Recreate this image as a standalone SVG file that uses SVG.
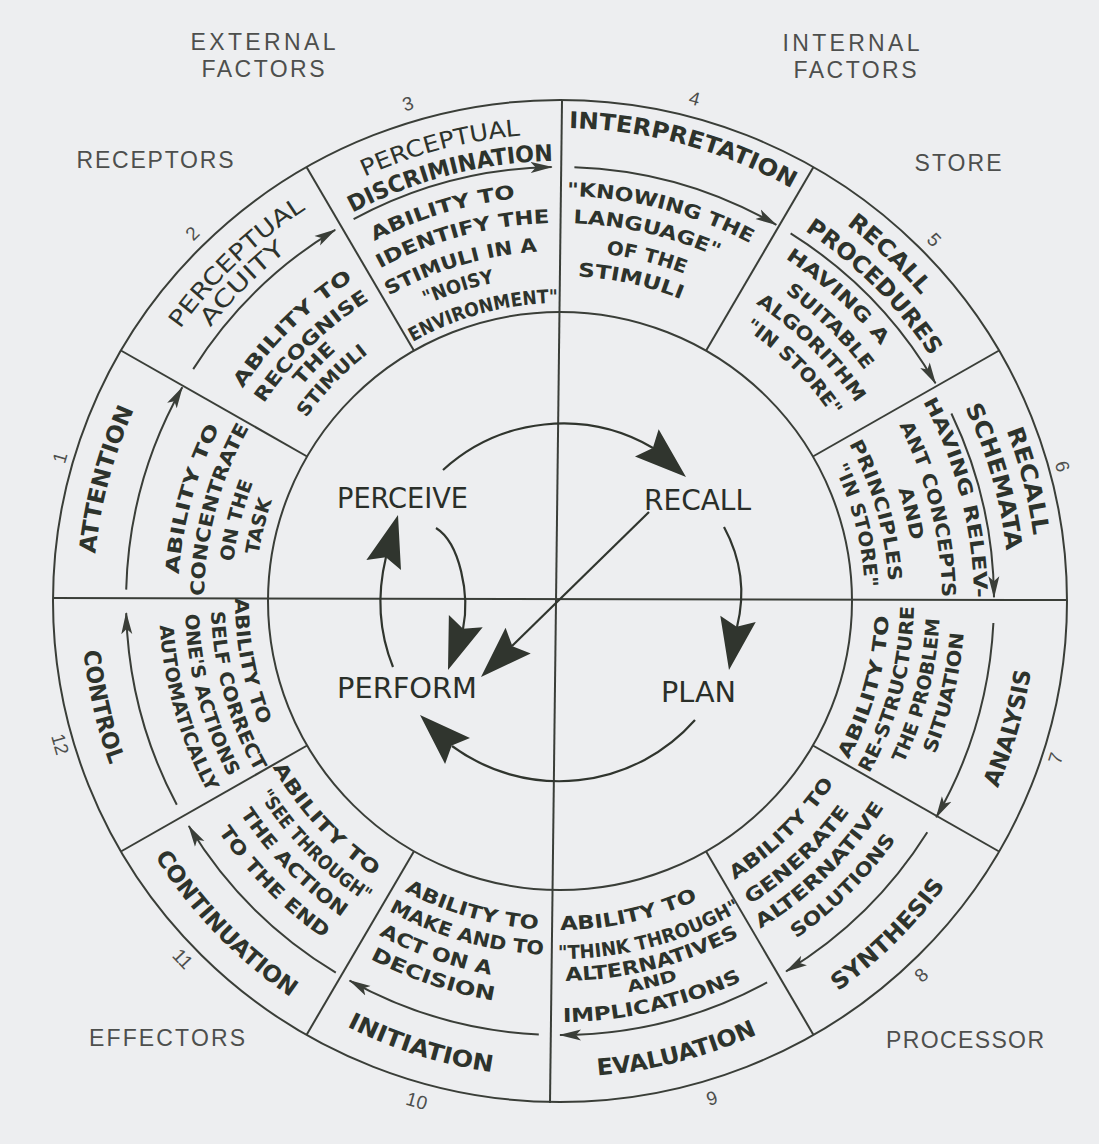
<svg xmlns="http://www.w3.org/2000/svg" width="1099" height="1144" viewBox="0 0 1099 1144">
<style>
.ln{fill:none;stroke:#3a3e38;stroke-width:2}
.ar{fill:none;stroke:#3a3e38;stroke-width:2;marker-end:url(#ah)}
.ca{fill:none;stroke:#30352e;stroke-width:2.2}
.hd{fill:#30352e}
text{text-anchor:middle}
.t{font-family:'DejaVu Sans Condensed','DejaVu Sans',sans-serif;font-weight:bold;font-size:23px;fill:#2d332c}
.tn{font-family:'DejaVu Sans Condensed','DejaVu Sans',sans-serif;font-size:23px;fill:#2d332c}
.d{font-family:'DejaVu Sans Condensed','DejaVu Sans',sans-serif;font-weight:bold;font-size:19px;fill:#2d332c}
.ds{font-family:'DejaVu Sans Condensed','DejaVu Sans',sans-serif;font-weight:bold;font-size:16px;fill:#2d332c}
.c{font-family:'DejaVu Sans Condensed','DejaVu Sans',sans-serif;font-size:29px;fill:#2a2f29}
.k{font-family:'Liberation Sans',Arial,sans-serif;font-size:23px;fill:#4d4f4d}
.n{font-family:'Liberation Sans',Arial,sans-serif;font-size:19px;fill:#4d4f4d;dominant-baseline:central}
</style>
<defs>
<marker id="ah" viewBox="0 0 22 12" refX="21" refY="6" markerWidth="22" markerHeight="12" markerUnits="userSpaceOnUse" orient="auto"><path d="M0,0.5 L22,6 L0,11.5 L5,6 z" fill="#3a3e38"/></marker>
<path id="bh" d="M0,0 L-52,-18 L-44,0 L-52,18 z"/>
<path id="T298" d="M349.28,390.28 A298,298 0 0 1 770.72,390.28"/>
<path id="T305" d="M344.33,385.33 A305,305 0 0 1 775.67,385.33"/>
<path id="T313" d="M338.67,379.67 A313,313 0 0 1 781.33,379.67"/>
<path id="T325" d="M330.19,371.19 A325,325 0 0 1 789.81,371.19"/>
<path id="T329" d="M327.36,368.36 A329,329 0 0 1 792.64,368.36"/>
<path id="T336" d="M322.41,363.41 A336,336 0 0 1 797.59,363.41"/>
<path id="T350" d="M312.51,353.51 A350,350 0 0 1 807.49,353.51"/>
<path id="T356" d="M308.27,349.27 A356,356 0 0 1 811.73,349.27"/>
<path id="T378" d="M292.71,333.71 A378,378 0 0 1 827.29,333.71"/>
<path id="T382" d="M289.88,330.88 A382,382 0 0 1 830.12,330.88"/>
<path id="T405" d="M273.62,314.62 A405,405 0 0 1 846.38,314.62"/>
<path id="T410" d="M270.09,311.09 A410,410 0 0 1 849.91,311.09"/>
<path id="T414" d="M267.26,308.26 A414,414 0 0 1 852.74,308.26"/>
<path id="T440" d="M248.87,289.87 A440,440 0 0 1 871.13,289.87"/>
<path id="T444" d="M246.04,287.04 A444,444 0 0 1 873.96,287.04"/>
<path id="T449" d="M242.51,283.51 A449,449 0 0 1 877.49,283.51"/>
<path id="T467" d="M229.78,270.78 A467,467 0 0 1 890.22,270.78"/>
<path id="T473" d="M225.54,266.54 A473,473 0 0 1 894.46,266.54"/>
<path id="T478" d="M222,263 A478,478 0 0 1 898,263"/>
<path id="B325" d="M330.19,830.81 A325,325 0 0 0 789.81,830.81"/>
<path id="B329" d="M327.36,833.64 A329,329 0 0 0 792.64,833.64"/>
<path id="B332" d="M325.24,835.76 A332,332 0 0 0 794.76,835.76"/>
<path id="B349" d="M313.22,847.78 A349,349 0 0 0 806.78,847.78"/>
<path id="B354" d="M309.68,851.32 A354,354 0 0 0 810.32,851.32"/>
<path id="B358" d="M306.85,854.15 A358,358 0 0 0 813.15,854.15"/>
<path id="B375" d="M294.83,866.17 A375,375 0 0 0 825.17,866.17"/>
<path id="B380" d="M291.3,869.7 A380,380 0 0 0 828.7,869.7"/>
<path id="B384" d="M288.47,872.53 A384,384 0 0 0 831.53,872.53"/>
<path id="B397" d="M279.28,881.72 A397,397 0 0 0 840.72,881.72"/>
<path id="B401" d="M276.45,884.55 A401,401 0 0 0 843.55,884.55"/>
<path id="B405" d="M273.62,887.38 A405,405 0 0 0 846.38,887.38"/>
<path id="B412" d="M268.67,892.33 A412,412 0 0 0 851.33,892.33"/>
<path id="B421" d="M262.31,898.69 A421,421 0 0 0 857.69,898.69"/>
<path id="B476" d="M223.42,937.58 A476,476 0 0 0 896.58,937.58"/>
<path id="B479" d="M221.29,939.71 A479,479 0 0 0 898.71,939.71"/>
</defs>
<rect width="1099" height="1144" fill="#edeef0"/>

<g id="frame">
<ellipse class="ln" cx="560" cy="601" rx="507" ry="501"/>
<ellipse class="ln" cx="560" cy="601" rx="292" ry="289"/>
<line class="ln" x1="53" y1="598" x2="1067" y2="600"/>
<line class="ln" x1="562" y1="101" x2="550" y2="1103"/>
<line class="ln" x1="812.9" y1="745.5" x2="999.1" y2="851.5"/>
<line class="ln" x1="706" y1="851.3" x2="813.5" y2="1034.9"/>
<line class="ln" x1="414" y1="851.3" x2="306.5" y2="1034.9"/>
<line class="ln" x1="307.1" y1="745.5" x2="120.9" y2="851.5"/>
<line class="ln" x1="307.1" y1="456.5" x2="120.9" y2="350.5"/>
<line class="ln" x1="414" y1="350.7" x2="306.5" y2="167.1"/>
<line class="ln" x1="706" y1="350.7" x2="813.5" y2="167.1"/>
<line class="ln" x1="812.9" y1="456.5" x2="999.1" y2="350.5"/>
</g>

<g id="labels">
<text class="k" x="263" y="50" textLength="145" lengthAdjust="spacing">EXTERNAL</text>
<text class="k" x="263" y="77" textLength="123" lengthAdjust="spacing">FACTORS</text>
<text class="k" x="851" y="51" textLength="137" lengthAdjust="spacing">INTERNAL</text>
<text class="k" x="855" y="78" textLength="123" lengthAdjust="spacing">FACTORS</text>
<text class="k" x="155" y="168" textLength="157" lengthAdjust="spacing">RECEPTORS</text>
<text class="k" x="958" y="171" textLength="87" lengthAdjust="spacing">STORE</text>
<text class="k" x="167" y="1046" textLength="156" lengthAdjust="spacing">EFFECTORS</text>
<text class="k" x="965" y="1048" textLength="158" lengthAdjust="spacing">PROCESSOR</text>
<text class="n" x="60.1" y="457.7" transform="rotate(-74 60.1 457.7)">1</text>
<text class="n" x="192.3" y="233.3" transform="rotate(-45 192.3 233.3)">2</text>
<text class="n" x="408" y="103.7" transform="rotate(-17 408 103.7)">3</text>
<text class="n" x="694.6" y="98.7" transform="rotate(15 694.6 98.7)">4</text>
<text class="n" x="934.1" y="239.8" transform="rotate(46 934.1 239.8)">5</text>
<text class="n" x="1062.3" y="466.4" transform="rotate(75 1062.3 466.4)">6</text>
<text class="n" x="1055.7" y="758.2" transform="rotate(-72.4 1055.7 758.2)">7</text>
<text class="n" x="921.2" y="975.1" transform="rotate(-44 921.2 975.1)">8</text>
<text class="n" x="712" y="1098.3" transform="rotate(-17 712 1098.3)">9</text>
<text class="n" x="416.7" y="1100.9" transform="rotate(16 416.7 1100.9)">10</text>
<text class="n" x="182.8" y="958.9" transform="rotate(46.5 182.8 958.9)">11</text>
<text class="n" x="60.1" y="744.3" transform="rotate(74 60.1 744.3)">12</text>
</g>

<g id="seg1">
<text class="t" transform="rotate(-75 560 601)"><textPath href="#T467" startOffset="50%" textLength="150" lengthAdjust="spacingAndGlyphs">ATTENTION</textPath></text>
<text class="d" transform="rotate(-74.5 560 601)"><textPath href="#T382" startOffset="50%" textLength="153" lengthAdjust="spacingAndGlyphs">ABILITY TO</textPath></text>
<text class="d" transform="rotate(-75 560 601)"><textPath href="#T356" startOffset="50%" textLength="176" lengthAdjust="spacingAndGlyphs">CONCENTRATE</textPath></text>
<text class="d" transform="rotate(-76 560 601)"><textPath href="#T329" startOffset="50%" textLength="82" lengthAdjust="spacingAndGlyphs">ON THE</textPath></text>
<text class="d" transform="rotate(-76 560 601)"><textPath href="#T305" startOffset="50%" textLength="56" lengthAdjust="spacingAndGlyphs">TASK</textPath></text>
</g>

<g id="seg2">
<text class="tn" transform="rotate(-43.7 560 601)"><textPath href="#T467" startOffset="50%" textLength="175" lengthAdjust="spacingAndGlyphs">PERCEPTUAL</textPath></text>
<text class="tn" transform="rotate(-45 560 601)"><textPath href="#T444" startOffset="50%" textLength="108" lengthAdjust="spacingAndGlyphs">ACUITY</textPath></text>
<text class="d" transform="rotate(-44.5 560 601)"><textPath href="#T382" startOffset="50%" textLength="156" lengthAdjust="spacingAndGlyphs">ABILITY TO</textPath></text>
<text class="d" transform="rotate(-44.3 560 601)"><textPath href="#T356" startOffset="50%" textLength="149" lengthAdjust="spacingAndGlyphs">RECOGNISE</textPath></text>
<text class="d" transform="rotate(-46 560 601)"><textPath href="#T336" startOffset="50%" textLength="50" lengthAdjust="spacingAndGlyphs">THE</textPath></text>
<text class="d" transform="rotate(-46 560 601)"><textPath href="#T313" startOffset="50%" textLength="90" lengthAdjust="spacingAndGlyphs">STIMULI</textPath></text>
</g>

<g id="seg3">
<text class="tn" transform="rotate(-14.8 560 601)"><textPath href="#T467" startOffset="50%" textLength="162" lengthAdjust="spacingAndGlyphs">PERCEPTUAL</textPath></text>
<text class="t" transform="rotate(-14.5 560 601)"><textPath href="#T440" startOffset="50%" textLength="209" lengthAdjust="spacingAndGlyphs">DISCRIMINATION</textPath></text>
<text class="d" transform="rotate(-16.8 560 601)"><textPath href="#T405" startOffset="50%" textLength="148" lengthAdjust="spacingAndGlyphs">ABILITY TO</textPath></text>
<text class="d" transform="rotate(-15 560 601)"><textPath href="#T378" startOffset="50%" textLength="177" lengthAdjust="spacingAndGlyphs">IDENTIFY THE</textPath></text>
<text class="d" transform="rotate(-16.5 560 601)"><textPath href="#T350" startOffset="50%" textLength="156" lengthAdjust="spacingAndGlyphs">STIMULI IN A</textPath></text>
<text class="d" transform="rotate(-18 560 601)"><textPath href="#T325" startOffset="50%" textLength="72" lengthAdjust="spacingAndGlyphs">"NOISY</textPath></text>
<text class="d" transform="rotate(-15 560 601)"><textPath href="#T298" startOffset="50%" textLength="152" lengthAdjust="spacingAndGlyphs">ENVIRONMENT"</textPath></text>
</g>

<g id="seg4">
<text class="t" transform="rotate(15.2 560 601)"><textPath href="#T473" startOffset="50%" textLength="233" lengthAdjust="spacingAndGlyphs">INTERPRETATION</textPath></text>
<text class="d" transform="rotate(14.5 560 601)"><textPath href="#T405" startOffset="50%" textLength="191" lengthAdjust="spacingAndGlyphs">"KNOWING THE</textPath></text>
<text class="d" transform="rotate(13.3 560 601)"><textPath href="#T378" startOffset="50%" textLength="149" lengthAdjust="spacingAndGlyphs">LANGUAGE"</textPath></text>
<text class="d" transform="rotate(14.2 560 601)"><textPath href="#T350" startOffset="50%" textLength="81" lengthAdjust="spacingAndGlyphs">OF THE</textPath></text>
<text class="d" transform="rotate(12.5 560 601)"><textPath href="#T325" startOffset="50%" textLength="106" lengthAdjust="spacingAndGlyphs">STIMULI</textPath></text>
</g>

<g id="seg5">
<text class="t" transform="rotate(43.5 560 601)"><textPath href="#T473" startOffset="50%" textLength="103" lengthAdjust="spacingAndGlyphs">RECALL</textPath></text>
<text class="t" transform="rotate(45 560 601)"><textPath href="#T444" startOffset="50%" textLength="179" lengthAdjust="spacingAndGlyphs">PROCEDURES</textPath></text>
<text class="d" transform="rotate(42.4 560 601)"><textPath href="#T410" startOffset="50%" textLength="130" lengthAdjust="spacingAndGlyphs">HAVING A</textPath></text>
<text class="d" transform="rotate(44.5 560 601)"><textPath href="#T382" startOffset="50%" textLength="112" lengthAdjust="spacingAndGlyphs">SUITABLE</textPath></text>
<text class="d" transform="rotate(44.8 560 601)"><textPath href="#T356" startOffset="50%" textLength="142" lengthAdjust="spacingAndGlyphs">ALGORITHM</textPath></text>
<text class="d" transform="rotate(45 560 601)"><textPath href="#T329" startOffset="50%" textLength="125" lengthAdjust="spacingAndGlyphs">"IN STORE"</textPath></text>
</g>

<g id="seg6">
<text class="t" transform="rotate(75.6 560 601)"><textPath href="#T478" startOffset="50%" textLength="109" lengthAdjust="spacingAndGlyphs">RECALL</textPath></text>
<text class="t" transform="rotate(74 560 601)"><textPath href="#T449" startOffset="50%" textLength="150" lengthAdjust="spacingAndGlyphs">SCHEMATA</textPath></text>
<text class="d" transform="rotate(75.4 560 601)"><textPath href="#T414" startOffset="50%" textLength="205" lengthAdjust="spacingAndGlyphs">HAVING RELEV-</textPath></text>
<text class="d" transform="rotate(76 560 601)"><textPath href="#T382" startOffset="50%" textLength="179" lengthAdjust="spacingAndGlyphs">ANT CONCEPTS</textPath></text>
<text class="d" transform="rotate(76 560 601)"><textPath href="#T356" startOffset="50%" textLength="53" lengthAdjust="spacingAndGlyphs">AND</textPath></text>
<text class="d" transform="rotate(74 560 601)"><textPath href="#T329" startOffset="50%" textLength="144" lengthAdjust="spacingAndGlyphs">PRINCIPLES</textPath></text>
<text class="d" transform="rotate(75.7 560 601)"><textPath href="#T305" startOffset="50%" textLength="125" lengthAdjust="spacingAndGlyphs">"IN STORE"</textPath></text>
</g>

<g id="seg7">
<text class="t" transform="rotate(-74.2 560 601)"><textPath href="#B476" startOffset="50%" textLength="122" lengthAdjust="spacingAndGlyphs">ANALYSIS</textPath></text>
<text class="d" transform="rotate(-74.3 560 601)"><textPath href="#B329" startOffset="50%" textLength="150" lengthAdjust="spacingAndGlyphs">ABILITY TO</textPath></text>
<text class="d" transform="rotate(-75 560 601)"><textPath href="#B354" startOffset="50%" textLength="175" lengthAdjust="spacingAndGlyphs">RE-STRUCTURE</textPath></text>
<text class="d" transform="rotate(-76 560 601)"><textPath href="#B380" startOffset="50%" textLength="150" lengthAdjust="spacingAndGlyphs">THE PROBLEM</textPath></text>
<text class="d" transform="rotate(-76.6 560 601)"><textPath href="#B405" startOffset="50%" textLength="125" lengthAdjust="spacingAndGlyphs">SITUATION</textPath></text>
</g>

<g id="seg8">
<text class="t" transform="rotate(-44.5 560 601)"><textPath href="#B479" startOffset="50%" textLength="151" lengthAdjust="spacingAndGlyphs">SYNTHESIS</textPath></text>
<text class="d" transform="rotate(-44.2 560 601)"><textPath href="#B329" startOffset="50%" textLength="140" lengthAdjust="spacingAndGlyphs">ABILITY TO</textPath></text>
<text class="d" transform="rotate(-43 560 601)"><textPath href="#B358" startOffset="50%" textLength="137" lengthAdjust="spacingAndGlyphs">GENERATE</textPath></text>
<text class="d" transform="rotate(-44.5 560 601)"><textPath href="#B384" startOffset="50%" textLength="175" lengthAdjust="spacingAndGlyphs">ALTERNATIVE</textPath></text>
<text class="d" transform="rotate(-44.8 560 601)"><textPath href="#B412" startOffset="50%" textLength="141" lengthAdjust="spacingAndGlyphs">SOLUTIONS</textPath></text>
</g>

<g id="seg9">
<text class="t" transform="rotate(-14.5 560 601)"><textPath href="#B476" startOffset="50%" textLength="166" lengthAdjust="spacingAndGlyphs">EVALUATION</textPath></text>
<text class="d" transform="rotate(-12.4 560 601)"><textPath href="#B329" startOffset="50%" textLength="142" lengthAdjust="spacingAndGlyphs">ABILITY TO</textPath></text>
<text class="d" transform="rotate(-15 560 601)"><textPath href="#B358" startOffset="50%" textLength="191" lengthAdjust="spacingAndGlyphs">"THINK THROUGH"</textPath></text>
<text class="d" transform="rotate(-14.5 560 601)"><textPath href="#B380" startOffset="50%" textLength="181" lengthAdjust="spacingAndGlyphs">ALTERNATIVES</textPath></text>
<text class="ds" transform="rotate(-13.6 560 601)"><textPath href="#B397" startOffset="50%" textLength="51" lengthAdjust="spacingAndGlyphs">AND</textPath></text>
<text class="d" transform="rotate(-13 560 601)"><textPath href="#B421" startOffset="50%" textLength="185" lengthAdjust="spacingAndGlyphs">IMPLICATIONS</textPath></text>
</g>

<g id="seg10">
<text class="t" transform="rotate(17.4 560 601)"><textPath href="#B476" startOffset="50%" textLength="153" lengthAdjust="spacingAndGlyphs">INITIATION</textPath></text>
<text class="d" transform="rotate(16 560 601)"><textPath href="#B329" startOffset="50%" textLength="140" lengthAdjust="spacingAndGlyphs">ABILITY TO</textPath></text>
<text class="d" transform="rotate(15.8 560 601)"><textPath href="#B354" startOffset="50%" textLength="162" lengthAdjust="spacingAndGlyphs">MAKE AND TO</textPath></text>
<text class="d" transform="rotate(19.5 560 601)"><textPath href="#B380" startOffset="50%" textLength="119" lengthAdjust="spacingAndGlyphs">ACT ON A</textPath></text>
<text class="d" transform="rotate(18.7 560 601)"><textPath href="#B405" startOffset="50%" textLength="131" lengthAdjust="spacingAndGlyphs">DECISION</textPath></text>
</g>

<g id="seg11">
<text class="t" transform="rotate(46 560 601)"><textPath href="#B479" startOffset="50%" textLength="197" lengthAdjust="spacingAndGlyphs">CONTINUATION</textPath></text>
<text class="d" transform="rotate(47 560 601)"><textPath href="#B332" startOffset="50%" textLength="150" lengthAdjust="spacingAndGlyphs">ABILITY TO</textPath></text>
<text class="d" transform="rotate(45 560 601)"><textPath href="#B358" startOffset="50%" textLength="153" lengthAdjust="spacingAndGlyphs">"SEE THROUGH"</textPath></text>
<text class="d" transform="rotate(45.5 560 601)"><textPath href="#B384" startOffset="50%" textLength="146" lengthAdjust="spacingAndGlyphs">THE ACTION</textPath></text>
<text class="d" transform="rotate(45.5 560 601)"><textPath href="#B412" startOffset="50%" textLength="151" lengthAdjust="spacingAndGlyphs">TO THE END</textPath></text>
</g>

<g id="seg12">
<text class="t" transform="rotate(77 560 601)"><textPath href="#B479" startOffset="50%" textLength="117" lengthAdjust="spacingAndGlyphs">CONTROL</textPath></text>
<text class="d" transform="rotate(79 560 601)"><textPath href="#B325" startOffset="50%" textLength="130" lengthAdjust="spacingAndGlyphs">ABILITY TO</textPath></text>
<text class="d" transform="rotate(74.5 560 601)"><textPath href="#B349" startOffset="50%" textLength="168" lengthAdjust="spacingAndGlyphs">SELF CORRECT</textPath></text>
<text class="d" transform="rotate(75 560 601)"><textPath href="#B375" startOffset="50%" textLength="170" lengthAdjust="spacingAndGlyphs">ONE'S ACTIONS</textPath></text>
<text class="d" transform="rotate(74 560 601)"><textPath href="#B401" startOffset="50%" textLength="175" lengthAdjust="spacingAndGlyphs">AUTOMATICALLY</textPath></text>
</g>

<g id="perceive"><text class="c" x="402.5" y="508" textLength="131" lengthAdjust="spacingAndGlyphs">PERCEIVE</text></g>
<g id="recall"><text class="c" x="697.5" y="510" textLength="107" lengthAdjust="spacingAndGlyphs">RECALL</text></g>
<g id="plan"><text class="c" x="698.5" y="702" textLength="75" lengthAdjust="spacingAndGlyphs">PLAN</text></g>
<g id="perform"><text class="c" x="407" y="698" textLength="140" lengthAdjust="spacingAndGlyphs">PERFORM</text></g>

<g id="connectors">
<path class="ar" d="M126.2,589.6 A434,434 0 0 1 182.3,387.3"/>
<path class="ar" d="M193.2,369.1 A434,434 0 0 1 335.2,229.8"/>
<path class="ar" d="M353.6,219.2 A434,434 0 0 1 551.7,167.1"/>
<path class="ar" d="M574.4,167.2 A434,434 0 0 1 776.3,224.8"/>
<path class="ar" d="M790.6,233.4 A434,434 0 0 1 935.5,383.3"/>
<path class="ar" d="M951.4,413.5 A434,434 0 0 1 994,597.2"/>
<path class="ar" d="M993.4,623 A434,434 0 0 1 936.2,817.3"/>
<path class="ar" d="M927.3,832.3 A434,434 0 0 1 786.1,971.4"/>
<path class="ar" d="M767.1,982.4 A434,434 0 0 1 560,1035"/>
<path class="ar" d="M538.8,1034.5 A434,434 0 0 1 349.6,980.6"/>
<path class="ar" d="M335.8,972.6 A434,434 0 0 1 188.8,826"/>
<path class="ar" d="M176.8,804.8 A434,434 0 0 1 126.2,613.1"/>

<path class="ca" d="M443,470 A178,178 0 0 1 653,448"/>
<use class="hd" href="#bh" transform="translate(686 477) rotate(41.1)"/>
<path class="ca" d="M724,527 Q750,575 737,627"/>
<use class="hd" href="#bh" transform="translate(729 670) rotate(100)"/>
<path class="ca" d="M695,720 A181,181 0 0 1 452,746"/>
<use class="hd" href="#bh" transform="translate(420 715) rotate(223.8)"/>
<path class="ca" d="M393,667 Q372,615 386,557"/>
<use class="hd" href="#bh" transform="translate(398 515) rotate(-74)"/>
<path class="ca" d="M436,528 C460,543 470,595 463,629"/>
<use class="hd" href="#bh" transform="translate(448 670) rotate(110)"/>
<path class="ca" d="M649,512 L512,646"/>
<use class="hd" href="#bh" transform="translate(481 677) rotate(135.6)"/>
</g>
</svg>
